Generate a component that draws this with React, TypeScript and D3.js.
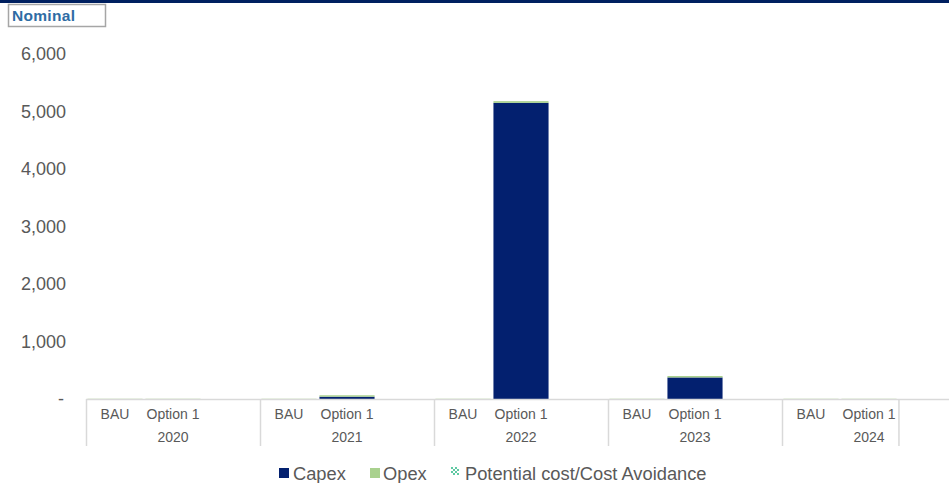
import React from "react";
import * as d3 from "d3";

const years = ["2020", "2021", "2022", "2023", "2024"];
const options = ["BAU", "Option 1", ""];
// values per year, per option [BAU, Option 1, blank]
const capex = [
  [0, 0, 0],
  [0, 40, 0],
  [0, 5150, 0],
  [0, 375, 0],
  [0, 0, 0],
];
const opex = [
  [4, 4, 0],
  [4, 25, 0],
  [4, 30, 0],
  [4, 25, 0],
  [4, 4, 0],
];
const potential = [
  [0, 0, 0],
  [0, 0, 0],
  [0, 0, 0],
  [0, 0, 0],
  [0, 0, 0],
];
const yTicks = [0, 1000, 2000, 3000, 4000, 5000, 6000];
const legendItems = ["Capex", "Opex", "Potential cost/Cost Avoidance"];

const W = 949;
const H = 483;
const FONT = "'Liberation Sans', Arial, sans-serif";
const CAPEX = "#03206f";
const OPEX = "#a9d18e";
const AXIS = "#d9d9d9";
const TEXT = "#595959";

export default function App() {
  const x0 = d3.scaleBand<string>().domain(years).range([86, 86 + 174 * years.length]);
  const x1 = d3
    .scaleBand<string>()
    .domain(options.map((o, i) => String(i)))
    .range([0, x0.bandwidth()])
    .paddingInner(0.05)
    .paddingOuter(0.025);
  const y = d3.scaleLinear().domain([0, 6000]).range([399, 54]);
  const fmt = (v: number) => (v === 0 ? "-" : d3.format(",")(v));

  const bars: React.ReactNode[] = [];
  years.forEach((yr, gi) => {
    options.forEach((opt, oi) => {
      const bx = (x0(yr) as number) + (x1(String(oi)) as number);
      const bw = x1.bandwidth();
      const stack = d3.stack<number[]>().keys(["0", "1", "2"])([
        [capex[gi][oi], opex[gi][oi], potential[gi][oi]],
      ] as any);
      const colors = [CAPEX, OPEX, "url(#pot)"];
      stack.forEach((s, si) => {
        const [a, b] = s[0];
        if (b - a <= 0) return;
        bars.push(
          <rect
            key={`${gi}-${oi}-${si}`}
            x={bx}
            y={y(b)}
            width={bw}
            height={Math.max(y(a) - y(b), 0.6)}
            fill={colors[si]}
          />
        );
      });
    });
  });

  const boundaries = years.map((yr) => x0(yr) as number);
  const lastEnd = (x0(years[years.length - 1]) as number) + (x1("2") as number) - 1;
  boundaries.push(lastEnd);

  const legendX = [279, 370, 451];
  const legendTextX = [293, 383, 465];

  return (
    <svg width={W} height={H} style={{ position: "absolute", left: 0, top: 0 }} fontFamily={FONT}>
      <defs>
        <pattern id="pot" width="4" height="4" patternUnits="userSpaceOnUse">
          <rect width="4" height="4" fill="#ffffff" />
          <path d="M0,0 L4,4 M4,0 L0,4" stroke="#5fc9a3" strokeWidth="1" />
        </pattern>
      </defs>
      <rect x={0} y={0} width={W} height={H} fill="#ffffff" />
      <rect x={0} y={0} width={W} height={3} fill="#002060" />
      <rect x={8.5} y={4.5} width={97} height={22} fill="#ffffff" stroke="#a6a6a6" strokeWidth={1.5} />
      <text x={12} y={20.5} fontSize={15.5} fontWeight="bold" fill="#2e6ca4" letterSpacing={0.3}>
        Nominal
      </text>

      {yTicks.map((t) => (
        <text
          key={t}
          x={t === 0 ? 64 : 66}
          y={y(t) + 6}
          textAnchor="end"
          fontSize={18}
          fill={TEXT}
        >
          {fmt(t)}
        </text>
      ))}

      {bars}

      <line x1={86} x2={W} y1={399.5} y2={399.5} stroke={AXIS} strokeWidth={1.5} />
      {boundaries.map((bx, i) => (
        <line key={i} x1={bx + 0.5} x2={bx + 0.5} y1={399} y2={446} stroke={AXIS} strokeWidth={1.5} />
      ))}

      {years.map((yr) => (
        <g key={yr}>
          {options.map((opt, oi) =>
            opt ? (
              <text
                key={oi}
                x={(x0(yr) as number) + (x1(String(oi)) as number) + x1.bandwidth() / 2}
                y={419}
                textAnchor="middle"
                fontSize={14}
                fill={TEXT}
              >
                {opt}
              </text>
            ) : null
          )}
          <text
            x={(x0(yr) as number) + (x1("1") as number) + x1.bandwidth() / 2}
            y={442}
            textAnchor="middle"
            fontSize={14}
            fill={TEXT}
          >
            {yr}
          </text>
        </g>
      ))}

      {legendItems.map((item, i) => (
        <g key={item}>
          {i < 2 ? (
            <rect x={legendX[i]} y={468} width={10} height={10} fill={i === 0 ? CAPEX : OPEX} />
          ) : (
            <rect x={legendX[i]} y={467} width={8} height={8} fill="url(#pot)" />
          )}
          <text x={legendTextX[i]} y={480} fontSize={18.3} fill={TEXT}>
            {item}
          </text>
        </g>
      ))}
    </svg>
  );
}
